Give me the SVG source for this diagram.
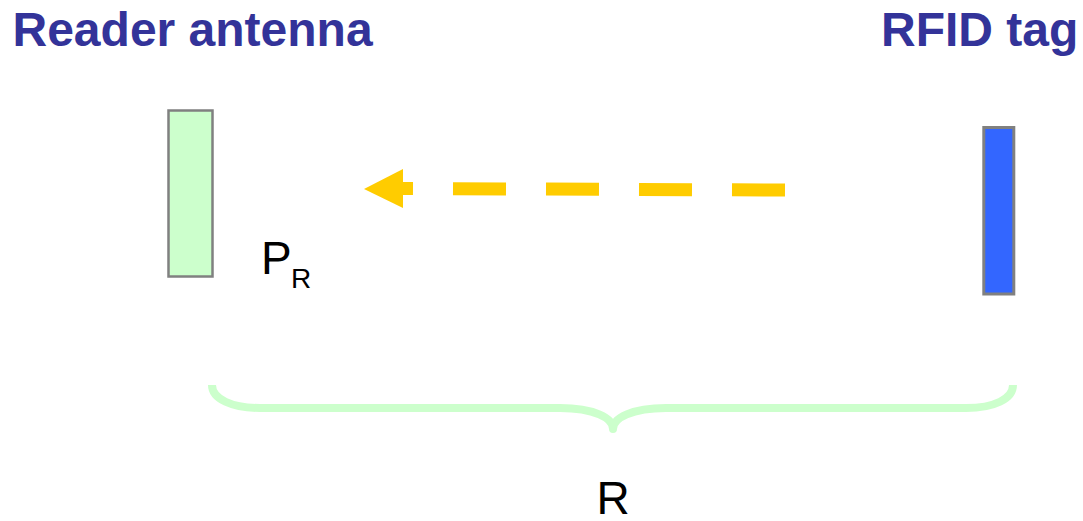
<svg xmlns="http://www.w3.org/2000/svg" width="1083" height="521" viewBox="0 0 1083 521">
  <style>
    .title { font-family: "Liberation Sans", Arial, sans-serif; font-weight: bold; font-size: 48px; fill: #333399; }
    .label { font-family: "Liberation Sans", Arial, sans-serif; fill: #000000; }
    .box { stroke: #808080; }
  </style>
  <rect width="1083" height="521" fill="#ffffff"/>
  <g id="title-reader">
    <text class="title" x="12.5" y="46">Reader antenna</text>
  </g>
  <g id="title-tag">
    <text class="title" x="881" y="46">RFID tag</text>
  </g>
  <g id="reader-antenna">
    <rect class="box" x="168.5" y="110.5" width="44" height="166" fill="#ccffcc" stroke-width="2.5"/>
  </g>
  <g id="rfid-tag">
    <rect class="box" x="983.8" y="127.5" width="30" height="166.5" fill="#3366ff" stroke-width="3"/>
  </g>
  <g id="label-pr">
    <text class="label" x="261" y="274" font-size="46">P</text>
    <text class="label" x="291" y="288" font-size="28">R</text>
  </g>
  <g id="connectors">
    <line x1="785" y1="190" x2="403" y2="188.5" stroke="#ffcc00" stroke-width="13" stroke-dasharray="53 40"/>
    <polygon points="364,189 403,169 403,208" fill="#ffcc00"/>
  </g>
  <g id="brace">
    <path d="M212,385 C212,399 232,408 260,408 L560,408 C594,408 613,418 613,429 C613,418 632,408 666,408 L966,408 C994,408 1013,399 1013,385" fill="none" stroke="#ccffcc" stroke-width="8" stroke-linejoin="round"/>
  </g>
  <g id="label-r">
    <text class="label" x="613" y="514" font-size="46" text-anchor="middle">R</text>
  </g>
</svg>
